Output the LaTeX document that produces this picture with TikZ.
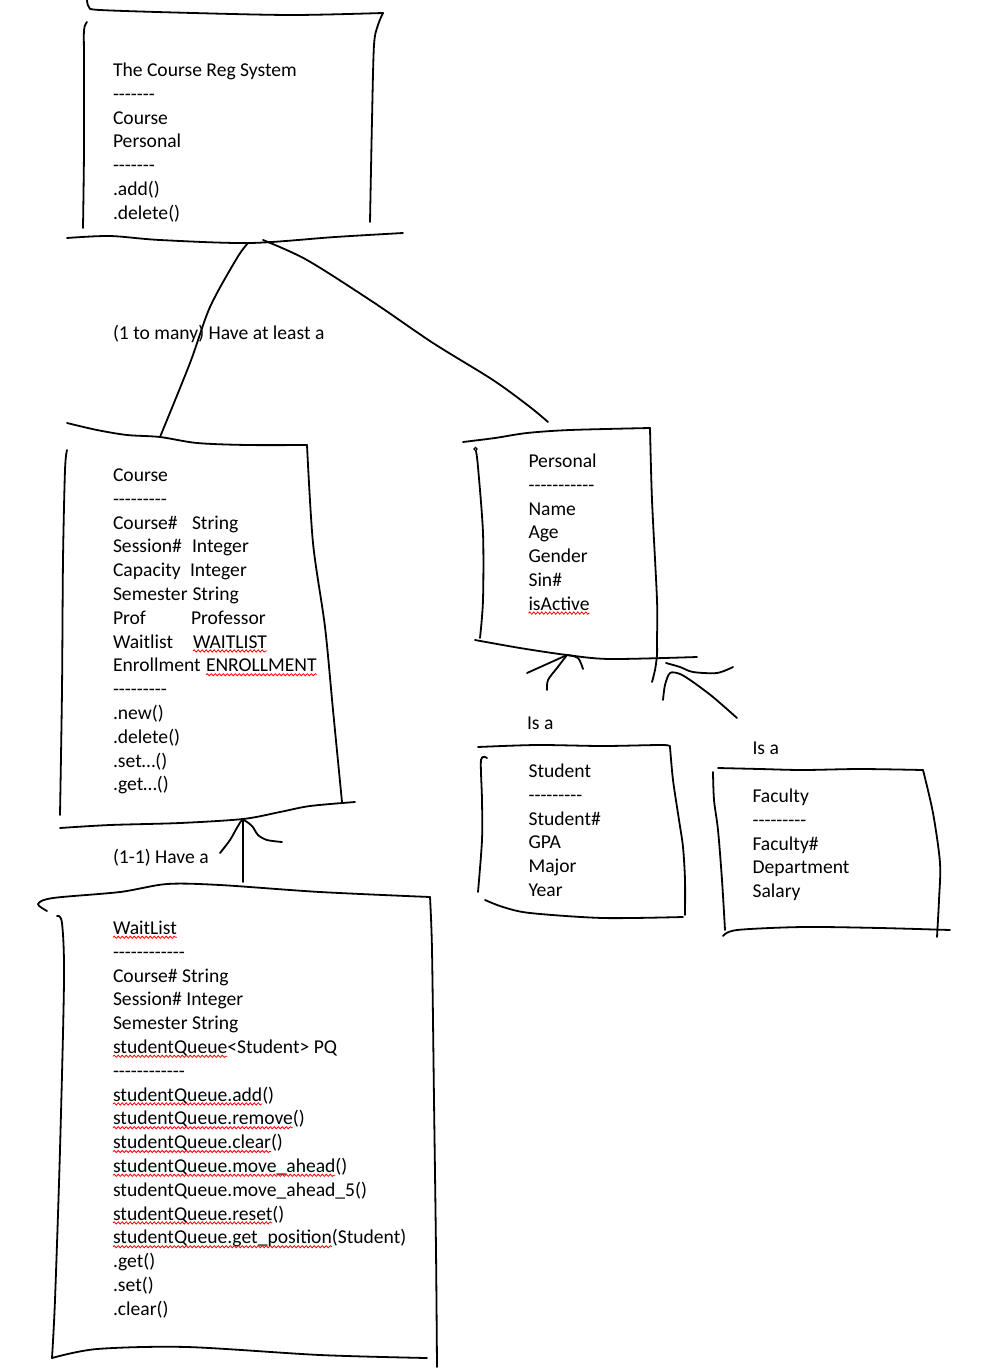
\documentclass[tikz,border=0pt]{standalone}
\usepackage{fontspec}
\newfontfamily\hand{Carlito}
\usetikzlibrary{decorations.pathmorphing}

% red wavy spell-check mark under a text node
\newcommand\spellmark[1]{\draw[spell] ([yshift=-2.8pt]#1.base west) -- ([yshift=-2.8pt]#1.base east);}

\begin{document}
\begin{tikzpicture}[x=1pt,y=-1pt,
  ink/.style={line width=1.8pt, line cap=round, line join=round},
  txtbase/.style={anchor=base west, inner sep=0pt, outer sep=0pt, font=\hand\fontsize{19.6}{23.8}\selectfont},
  txt/.style={txtbase, yshift=-1pt},
  spell/.style={red, line width=0.8pt, decorate, decoration={snake, amplitude=1.1pt, segment length=4pt}}
]
\useasboundingbox (0,0) rectangle (1002,1368);
\fill[white] (0,0) rectangle (1002,1368);

% ---------------- The Course Reg System box ----------------
\draw[ink] plot[smooth,tension=0.5] coordinates {(87,0) (89,7) (100,10) (193,13) (293,15) (383,13)};
\draw[ink] plot[smooth,tension=0.5] coordinates {(383,13) (378,25) (374,45) (372,120) (370,222)};
\draw[ink] plot[smooth,tension=0.5] coordinates {(87,22) (84,30) (84,60) (84,150) (83,228)};
\draw[ink] plot[smooth,tension=0.5] coordinates {(67,238) (110,236) (160,240) (250,243) (335,237) (403,233)};
\coordinate (sysL) at (248,243);
\coordinate (sysR) at (263,240);

\node[txt] (sysTitle) at (113,75.5) {The Course Reg System};
\node[txt] (sysD1) at (113,99.3) {-------};
\node[txt] (sysA1) at (113,123.1) {Course};
\node[txt] (sysA2) at (113,146.9) {Personal};
\node[txt] (sysD2) at (113,170.7) {-------};
\node[txt] (sysM1) at (113,194.5) {.add()};
\node[txt] (sysM2) at (113,218.3) {.delete()};

% ---------------- Course box ----------------
\draw[ink] plot[smooth,tension=0.5] coordinates {(67,423) (97,430) (127,435) (160,437) (197,443) (247,445) (307,445)};
\draw[ink] plot[smooth,tension=0.5] coordinates {(307,445) (313,543) (325,627) (333,710) (342,802)};
\draw[ink] plot[smooth,tension=0.5] coordinates {(67,450) (65,470) (63,560) (62,690) (60,815)};
\draw[ink] plot[smooth,tension=0.5] coordinates {(60,828) (110,825) (180,823) (243,819) (280,812) (310,806) (355,802)};
\coordinate (crsT) at (160,437);
\coordinate (crsB) at (243,820);

\node[txt] (crsTitle) at (113,480.5) {Course};
\node[txt] (crsD1) at (113,504.3) {---------};
\node[txt] (crsF1) at (113,528.1) {Course\#};
\node[txt] (crsT1) at (192,528.1) {String};
\node[txt] (crsF2) at (113,551.9) {Session\#};
\node[txt] (crsT2) at (192,551.9) {Integer};
\node[txt] (crsF3) at (113,575.7) {Capacity};
\node[txt] (crsT3) at (190,575.7) {Integer};
\node[txt] (crsF4) at (113,599.5) {Semester};
\node[txt] (crsT4) at (192.5,599.5) {String};
\node[txt] (crsF5) at (113,623.3) {Prof};
\node[txt] (crsT5) at (191,623.3) {Professor};
\node[txt] (crsF6) at (113,647.1) {Waitlist};
\node[txt] (crsT6) at (193,647.1) {WAITLIST};
\node[txt] (crsF7) at (113,670.9) {Enrollment};
\node[txt] (crsT7) at (206,670.9) {ENROLLMENT};
\node[txt] (crsD2) at (113,694.7) {---------};
\node[txt] (crsM1) at (113,718.5) {.new()};
\node[txt] (crsM2) at (113,742.3) {.delete()};
\node[txt] (crsM3) at (113,766.1) {.set…()};
\node[txt] (crsM4) at (113,789.9) {.get…()};
\spellmark{crsT6}
\spellmark{crsT7}

% ---------------- Personal box ----------------
\draw[ink] plot[smooth,tension=0.5] coordinates {(463,442) (495,438) (527,433) (570,430) (650,428)};
\draw[ink] plot[smooth,tension=0.5] coordinates {(650,428) (652,500) (657,600) (657,640) (657,655) (655,670) (652,682)};
\draw[line width=1.2pt] (475.5,449) circle (1.6);
\draw[ink] plot[smooth,tension=0.5] coordinates {(476,451) (478,467) (483,533) (483,600) (480,638)};
\draw[ink] plot[smooth,tension=0.5] coordinates {(475,640) (520,648) (567,655) (610,659) (697,657)};
\coordinate (perT) at (548,422);
\coordinate (perB1) at (567,655);
\coordinate (perB2) at (666,663);

\node[txt] (perTitle) at (528.5,466.5) {Personal};
\node[txt] (perD1) at (528.5,490.3) {-----------};
\node[txt] (perA1) at (528.5,514.1) {Name};
\node[txt] (perA2) at (528.5,537.9) {Age};
\node[txt] (perA3) at (528.5,561.7) {Gender};
\node[txt] (perA4) at (528.5,585.5) {Sin\#};
\node[txt] (perA5) at (528.5,609.3) {isActive};
\spellmark{perA5}

% ---------------- Student box ----------------
\draw[ink] plot[smooth,tension=0.5] coordinates {(478,747) (537,745) (603,746) (663,745) (670,747)};
\draw[ink] plot[smooth,tension=0.5] coordinates {(670,747) (673,780) (679,820) (683,847) (685,880) (685,915)};
\draw[ink] plot[smooth,tension=0.5] coordinates {(487,758) (481,760) (482,800) (482,840) (478,892)};
\draw[ink] plot[smooth,tension=0.5] coordinates {(485,900) (503,907) (530,913) (603,918) (683,917)};

\node[txt] (stuTitle) at (528.5,776.5) {Student};
\node[txt] (stuD1) at (528.5,800.3) {---------};
\node[txt] (stuA1) at (528.5,824.1) {Student\#};
\node[txt] (stuA2) at (528.5,847.9) {GPA};
\node[txt] (stuA3) at (528.5,871.7) {Major};
\node[txt] (stuA4) at (528.5,895.5) {Year};

% ---------------- Faculty box ----------------
\draw[ink] plot[smooth,tension=0.5] coordinates {(718,768) (760,769) (803,770) (860,769) (923,770)};
\draw[ink] plot[smooth,tension=0.5] coordinates {(713,772) (714,800) (718,830) (722,880) (725,930)};
\draw[ink] plot[smooth,tension=0.5] coordinates {(923,770) (933,813) (940,863) (939,900) (937,937)};
\draw[ink] plot[smooth,tension=0.5] coordinates {(723,936) (737,930) (803,927) (880,928) (950,930)};

\node[txt] (facTitle) at (752.5,801.5) {Faculty};
\node[txt] (facD1) at (752.5,825.3) {---------};
\node[txt] (facA1) at (752.5,849.1) {Faculty\#};
\node[txt] (facA2) at (752.5,872.9) {Department};
\node[txt] (facA3) at (752.5,896.7) {Salary};

% ---------------- WaitList box ----------------
\draw[ink] plot[smooth,tension=0.5] coordinates {(47,911) (38,904) (53,898) (120,892) (167,884) (220,885) (320,892) (430,897)};
\draw[ink] plot[smooth,tension=0.5] coordinates {(57,916) (62,923) (64,980) (60,1150) (55,1300) (52,1358)};
\draw[ink] plot[smooth,tension=0.5] coordinates {(430,897) (432,950) (434,1100) (436,1250) (437,1367)};
\draw[ink] plot[smooth,tension=0.5] coordinates {(52,1358) (97,1349) (187,1347) (320,1355) (427,1358)};
\coordinate (wlT) at (243,882);

\node[txt] (wlTitle) at (113,933.5) {WaitList};
\node[txt] (wlD1) at (113,957.3) {------------};
\node[txt] (wlA1) at (113,981.1) {Course\# String};
\node[txt] (wlA2) at (113,1004.9) {Session\# Integer};
\node[txt] (wlA3) at (113,1028.7) {Semester String};
\node[txt] (wlA4) at (113,1052.5) {studentQueue};
\node[txtbase] (wlA4b) at (wlA4.base east) {<Student> PQ};
\node[txt] (wlD2) at (113,1076.3) {------------};
\node[txt] (wlM1) at (113,1100.1) {studentQueue.add};
\node[txtbase] (wlM1b) at (wlM1.base east) {()};
\node[txt] (wlM2) at (113,1123.9) {studentQueue.remove};
\node[txtbase] (wlM2b) at (wlM2.base east) {()};
\node[txt] (wlM3) at (113,1147.7) {studentQueue.clear};
\node[txtbase] (wlM3b) at (wlM3.base east) {()};
\node[txt] (wlM4) at (113,1171.5) {studentQueue.move\_ahead};
\node[txtbase] (wlM4b) at (wlM4.base east) {()};
\node[txt] (wlM5) at (113,1195.3) {studentQueue.move\_ahead\_5()};
\node[txt] (wlM6) at (113,1219.1) {studentQueue.reset};
\node[txtbase] (wlM6b) at (wlM6.base east) {()};
\node[txt] (wlM7) at (113,1242.9) {studentQueue.get\_position};
\node[txtbase] (wlM7b) at (wlM7.base east) {(Student)};
\node[txt] (wlM8) at (113,1266.7) {.get()};
\node[txt] (wlM9) at (113,1290.5) {.set()};
\node[txt] (wlM10) at (113,1314.3) {.clear()};
\spellmark{wlTitle}
\spellmark{wlA4}
\spellmark{wlM1}
\spellmark{wlM2}
\spellmark{wlM3}
\spellmark{wlM4}
\spellmark{wlM6}
\spellmark{wlM7}

% ---------------- connectors ----------------
% System -- Course (1 to many)
\draw[ink] plot[smooth,tension=0.5] coordinates {(sysL) (237,258) (210,307) (190,363) (crsT)};
\node[txt] (lblMany) at (113,338.5) {(1 to many) Have at least a};
% System -- Personal
\draw[ink] plot[smooth,tension=0.5] coordinates {(sysR) (307,260) (373,302) (433,343) (493,380) (530,407) (perT)};

% WaitList -> Course (1-1)
\draw[ink] (wlT) -- (crsB);
\draw[ink] plot[smooth,tension=0.5] coordinates {(220,853) (230,840) (238,826) (crsB) (252,826) (258,835) (267,840) (282,842)};
\node[txt] (lblOne) at (113,862.5) {(1-1) Have a};

% Student -> Personal (is a)
\coordinate (isaS) at (547,690);
\draw[ink] plot[smooth,tension=0.5] coordinates {(isaS) (548,680) (557,668) (perB1)};
\draw[ink] (527,673) -- (perB1);
\draw[ink] plot[smooth,tension=0.5] coordinates {(perB1) (578,658) (583,669)};
\node[txt] (lblIsa1) at (527,728.5) {Is a};

% Faculty -> Personal (is a)
\coordinate (isaF) at (737,718);
\draw[ink] plot[smooth,tension=0.5] coordinates {(663,700) (665,685) (670,673) (680,674) (693,682) (713,697) (isaF)};
\draw[ink] plot[smooth,tension=0.5] coordinates {(perB2) (680,667) (693,672) (717,673) (733,667)};
\node[txt] (lblIsa2) at (752.5,753.5) {Is a};

\end{tikzpicture}
\end{document}
